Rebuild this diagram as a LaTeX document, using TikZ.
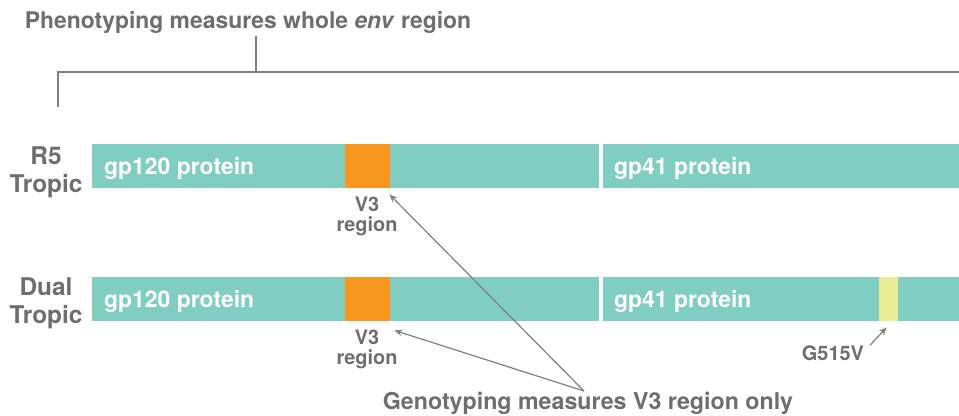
\documentclass[tikz,border=0pt]{standalone}
\usepackage{fontspec}
\setmainfont{TeX Gyre Heros}
\usetikzlibrary{positioning,arrows.meta}

\definecolor{labgrey}{HTML}{6D6E71}
\definecolor{linegrey}{HTML}{808080}
\definecolor{envteal}{HTML}{80CDC2}
\definecolor{vorange}{HTML}{F7971F}
\definecolor{mutyellow}{HTML}{EAED95}

\newcommand{\fsz}[1]{\bfseries\fontsize{#1}{#1}\selectfont}

\begin{document}
\begin{tikzpicture}[x=1bp,y=-1bp,
    bar/.style={fill=envteal,draw=none,inner sep=0,anchor=north west,minimum height=44bp},
    loop/.style={fill=vorange,draw=none,inner sep=0,anchor=north west,minimum height=44bp,minimum width=45bp},
    mut/.style={fill=mutyellow,draw=none,inner sep=0,anchor=north west,minimum height=44bp,minimum width=19bp},
    barlabel/.style={text=white,font=\fsz{23},anchor=base west,inner sep=0},
    side/.style={text=labgrey,font=\fsz{24.5},align=center,inner sep=0,
                 execute at begin node=\setlength{\baselineskip}{28bp}},
    small/.style={text=labgrey,font=\fsz{20},align=center,inner sep=0,
                  execute at begin node=\setlength{\baselineskip}{20bp}},
    bracket/.style={draw=linegrey,line width=1.3bp},
    pointer/.style={draw=linegrey,line width=1.2bp,-{Stealth[length=8bp,width=6.5bp]}}]
  \useasboundingbox (0,0) rectangle (959,415);

  % whole env bracket
  \node[text=labgrey,font=\fsz{23},inner sep=0,anchor=base] (pheno) at (248,28) {Phenotyping measures whole \textit{env} region};
  \coordinate (brace) at (256,72);
  \draw[bracket] (58,107) -- (58,72) -- (959,72);
  \draw[bracket] (brace |- 0,36) -- (brace);

  % R5 tropic
  \node[side] (rfive) at (46,172) {R5\\Tropic};
  \node[bar,minimum width=507bp] (gpA) at (92,144) {};
  \node[bar,minimum width=356bp] (gpB) at (603,144) {};
  \node[loop] (vA) at (345,144) {};
  \node[barlabel] at (104,174) {gp120 protein};
  \node[barlabel] at (614,174) {gp41 protein};
  \node[small,anchor=north] (vlabA) at (367,197) {V3\\region};

  % dual tropic
  \node[side] (dual) at (46,303) {Dual\\Tropic};
  \node[bar,minimum width=507bp] (gpC) at (92,277) {};
  \node[bar,minimum width=356bp] (gpD) at (603,277) {};
  \node[loop] (vB) at (345,277) {};
  \node[mut] (gfive) at (879,277) {};
  \node[barlabel] at (104,307) {gp120 protein};
  \node[barlabel] at (614,307) {gp41 protein};
  \node[small,anchor=north] (vlabB) at (367,330) {V3\\region};
  \node[small,anchor=base] (glab) at (833,360) {G515V};

  % genotyping pointers
  \node[text=labgrey,font=\fsz{23.3},inner sep=0,anchor=base] (geno) at (588,409) {Genotyping measures V3 region only};
  \coordinate (fork) at (584,391);
  \draw[pointer] (fork) -- ([shift={(-1,6)}]vA.south east);
  \draw[pointer] (fork) -- ([shift={(4,9)}]vB.south east);
  \draw[pointer] ([shift={(6,0)}]glab.north east) -- ([shift={(-2,6)}]gfive.south);
\end{tikzpicture}
\end{document}
